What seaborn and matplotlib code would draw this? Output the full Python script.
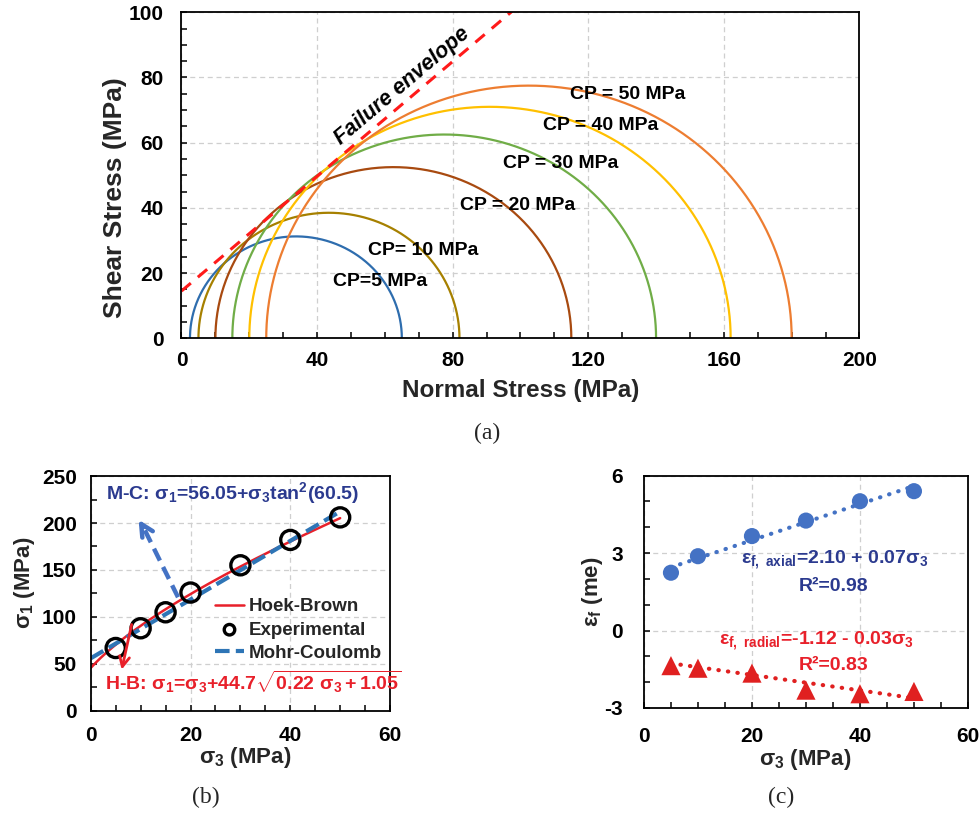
import numpy as np
import pandas as pd
import matplotlib
matplotlib.use("Agg")
import matplotlib.pyplot as plt
from matplotlib.ticker import MultipleLocator
import seaborn as sns

# ---------------- data ----------------
# (a) Mohr circles at failure for each confining pressure
cp_labels = ["CP=5 MPa", "CP= 10 MPa", "CP = 20 MPa", "CP = 30 MPa", "CP = 40 MPa", "CP = 50 MPa"]
circle_sigma3 = [2.5, 5, 10, 15, 20, 25]
circle_sigma1 = [65, 82, 115, 140, 162, 180]
envelope_intercept = 14.5
envelope_slope = 0.88

# (b) peak strength vs confining stress
sigma3_exp = [5, 10, 15, 20, 30, 40, 50]
sigma1_exp = [67, 88, 105, 126, 155, 182, 206]
hb_a, hb_b, hb_c = 44.7, 0.22, 1.05
mc_c, mc_angle = 56.05, 60.5

# (c) failure strains vs confining stress
sigma3_strain = [5, 10, 20, 30, 40, 50]
eps_axial = [2.24, 2.88, 3.66, 4.26, 5.01, 5.40]
eps_radial = [-1.36, -1.46, -1.65, -2.31, -2.45, -2.36]
axial_fit = (2.10, 0.07)
radial_fit = (-1.12, -0.03)

# ---------------- style ----------------
sns.set_theme(style="ticks")
plt.rcParams.update({
    "font.family": ["Liberation Sans", "DejaVu Sans"],
    "font.weight": "bold",
    "axes.labelweight": "bold",
    "axes.unicode_minus": False,
    "mathtext.fontset": "custom",
    "mathtext.rm": "Liberation Sans:bold",
    "mathtext.it": "Liberation Sans:bold",
    "mathtext.bf": "Liberation Sans:bold",
    "mathtext.sf": "Liberation Sans:bold",
    "mathtext.default": "rm",
    "axes.edgecolor": "black",
    "axes.linewidth": 1.3,
    "xtick.color": "black",
    "ytick.color": "black",
})

circle_colors = ["#2E6DAE", "#A68000", "#A84A10", "#70AD47", "#FFC000", "#ED7D31"]
navy = "#2B3A8F"
red_txt = "#E8202A"
grid_kw = dict(color="#cfcfcf", linestyle=(0, (4, 3)), linewidth=0.9)


def style_axes(ax, xmaj, xmin, ymaj, ymin, xpad, ypad, size=15):
    ax.xaxis.set_major_locator(MultipleLocator(xmaj))
    ax.xaxis.set_minor_locator(MultipleLocator(xmin))
    ax.yaxis.set_major_locator(MultipleLocator(ymaj))
    ax.yaxis.set_minor_locator(MultipleLocator(ymin))
    ax.tick_params(which="both", direction="in", length=4.5, width=1.1)
    ax.tick_params(axis="x", which="major", pad=xpad, labelsize=size)
    ax.tick_params(axis="y", which="major", pad=ypad, labelsize=size)
    for lab in ax.get_xticklabels() + ax.get_yticklabels():
        lab.set_fontweight("bold")
    ax.grid(True, which="major", **grid_kw)
    ax.set_axisbelow(True)
    for s in ax.spines.values():
        s.set_visible(True)
        s.set_color("black")


fig = plt.figure(figsize=(9.8, 8.13), dpi=100)
ax_a = fig.add_axes([0.1852, 0.5839, 0.6918, 0.4010])
ax_b = fig.add_axes([0.0926, 0.1255, 0.3054, 0.2890])
ax_c = fig.add_axes([0.6571, 0.1292, 0.3306, 0.2857])

# ---------------- (a) Mohr circles ----------------
theta = np.linspace(0, np.pi, 400)
for s3, s1, col in zip(circle_sigma3, circle_sigma1, circle_colors):
    c, r = (s1 + s3) / 2, (s1 - s3) / 2
    arc = pd.DataFrame({"sn": c + r * np.cos(theta), "tau": r * np.sin(theta)})
    sns.lineplot(data=arc, x="sn", y="tau", sort=False, estimator=None,
                 color=col, linewidth=1.6, ax=ax_a)

env_x = np.array([0, 100])
env = pd.DataFrame({"sn": env_x, "tau": envelope_intercept + envelope_slope * env_x})
sns.lineplot(data=env, x="sn", y="tau", sort=False, estimator=None, color="#FF1A1A",
             linewidth=2.2, linestyle=(0, (4, 3)), ax=ax_a)

ax_a.set_xlim(0, 200)
ax_a.set_ylim(0, 100)
style_axes(ax_a, 40, 10, 20, 5, xpad=9, ypad=13)
ax_a.set_xlabel("Normal Stress (MPa)", fontsize=17.5, fontweight="bold")
ax_a.set_ylabel("Shear Stress (MPa)", fontsize=19, fontweight="bold")
ax_a.xaxis.set_label_coords(0.5, -0.159)
ax_a.yaxis.set_label_coords(-0.098, 0.43)
ax_a.xaxis.label.set_va("center")
ax_a.yaxis.label.set_va("center")

cp_label_x = [58.5, 71.4, 99.1, 111.8, 123.7, 131.6]
cp_label_y = [17.4, 26.8, 40.7, 53.7, 65.4, 74.8]
for lab, lx, ly in zip(cp_labels, cp_label_x, cp_label_y):
    ax_a.text(lx, ly, lab, ha="center", va="center", fontsize=14, fontweight="bold", color="black")

ax_a.text(65.0, 77.5, "Failure envelope", rotation=np.degrees(np.arctan(envelope_slope)),
          transform_rotates_text=True, rotation_mode="anchor", ha="center", va="center",
          fontsize=15.5, fontweight="bold", style="italic", color="black")

# ---------------- (b) strength criteria ----------------
s3_line = np.linspace(0, 50, 200)
hb_line = s3_line + hb_a * np.sqrt(hb_b * s3_line + hb_c)
mc_line = mc_c + s3_line * np.tan(np.radians(mc_angle)) ** 2
sns.lineplot(x=s3_line, y=hb_line, color="#E8202A", linewidth=1.8, ax=ax_b,
             label="Hoek-Brown")
sns.scatterplot(x=sigma3_exp, y=sigma1_exp, marker="o", s=190, facecolor="none",
                edgecolor="black", linewidth=2.4, ax=ax_b, label="Experimental", zorder=4)
sns.lineplot(x=s3_line, y=mc_line, color="#2E75B6", linewidth=3, linestyle=(0, (3.5, 1.5)),
             ax=ax_b, label="Mohr-Coulomb")

ax_b.set_xlim(0, 60)
ax_b.set_ylim(0, 250)
style_axes(ax_b, 20, 5, 50, 25, xpad=11, ypad=10)
ax_b.set_xlabel("σ$_3$ (MPa)", fontsize=16, fontweight="bold")
ax_b.set_ylabel("σ$_1$ (MPa)", fontsize=16, fontweight="bold")
ax_b.xaxis.set_label_coords(0.516, -0.2)
ax_b.yaxis.set_label_coords(-0.22, 0.545)
ax_b.xaxis.label.set_va("center")
ax_b.yaxis.label.set_va("center")

leg = ax_b.legend(loc="upper left", bbox_to_anchor=(0.415, 0.48), frameon=False,
                  prop={"weight": "bold", "size": 13.5}, markerscale=0.55,
                  handlelength=1.55, handletextpad=0.25, labelspacing=0.33,
                  borderpad=0, borderaxespad=0)

# annotation arrows
ax_b.plot([17.5, 10.6], [121, 195], color="#4472C4", linewidth=3.2,
          linestyle=(0, (3, 1.6)), zorder=5)
ax_b.annotate("", xy=(9.3, 206), xytext=(10.8, 193),
              arrowprops=dict(arrowstyle="->", color="#4472C4", lw=3.2, mutation_scale=22),
              zorder=5)
ax_b.annotate("", xy=(6.2, 44), xytext=(8.2, 92),
              arrowprops=dict(arrowstyle="->", color="#E8202A", lw=2.0, mutation_scale=18,
                              shrinkA=0, shrinkB=0),
              zorder=6)

ax_b.text(3.0, 232, "M-C: σ$_1$=56.05+σ$_3$tan$^2$(60.5)", ha="left", va="center",
          fontsize=14, fontweight="bold", color=navy)
ax_b.text(2.9, 31, r"H-B: σ$_1$=σ$_3$+44.7$\sqrt{0.22\ σ_3+1.05}$", ha="left", va="center",
          fontsize=14, fontweight="bold", color=red_txt)

# ---------------- (c) failure strains ----------------
s3_fit = np.linspace(5, 50, 100)
dot_style = dict(linewidth=3, linestyle=(0, (0.1, 2.2)), dash_capstyle="round")
sns.lineplot(x=s3_fit, y=axial_fit[0] + axial_fit[1] * s3_fit, color="#4472C4",
             ax=ax_c, **dot_style)
sns.lineplot(x=s3_fit, y=radial_fit[0] + radial_fit[1] * s3_fit, color="#E02020",
             ax=ax_c, **dot_style)
for ln in ax_c.get_lines():
    ln.set_dash_capstyle("round")
sns.scatterplot(x=sigma3_strain, y=eps_axial, marker="o", s=135, color="#4472C4",
                edgecolor="none", ax=ax_c, zorder=4)
sns.scatterplot(x=sigma3_strain, y=eps_radial, marker="^", s=190, color="#E02020",
                edgecolor="none", ax=ax_c, zorder=4)

ax_c.set_xlim(0, 60)
ax_c.set_ylim(-3, 6)
style_axes(ax_c, 20, 5, 3, 1, xpad=14, ypad=15)
ax_c.set_xlabel("σ$_3$ (MPa)", fontsize=16, fontweight="bold")
ax_c.set_ylabel("ε$_f$ (me)", fontsize=16, fontweight="bold")
ax_c.xaxis.set_label_coords(0.497, -0.224)
ax_c.yaxis.set_label_coords(-0.16, 0.5)
ax_c.xaxis.label.set_va("center")
ax_c.yaxis.label.set_va("center")

ax_c.text(35.4, 2.75, r"ε$_{f,\ axial}$=2.10 + 0.07σ$_3$", ha="center", va="center",
          fontsize=14, fontweight="bold", color=navy)
ax_c.text(35.2, 1.7, "R²=0.98", ha="center", va="center", fontsize=14,
          fontweight="bold", color=navy)
ax_c.text(32.0, -0.4, r"ε$_{f,\ radial}$=-1.12 - 0.03σ$_3$", ha="center", va="center",
          fontsize=14, fontweight="bold", color=red_txt)
ax_c.text(35.2, -1.36, "R²=0.83", ha="center", va="center", fontsize=14,
          fontweight="bold", color=red_txt)

# panel tags
serif = ["Liberation Serif", "DejaVu Serif"]
fig.text(0.497, 0.467, "(a)", ha="center", va="center", fontsize=17, family=serif,
         fontweight="normal")
fig.text(0.210, 0.019, "(b)", ha="center", va="center", fontsize=17, family=serif,
         fontweight="normal")
fig.text(0.797, 0.019, "(c)", ha="center", va="center", fontsize=17, family=serif,
         fontweight="normal")

fig.savefig("out.png", dpi=100)
